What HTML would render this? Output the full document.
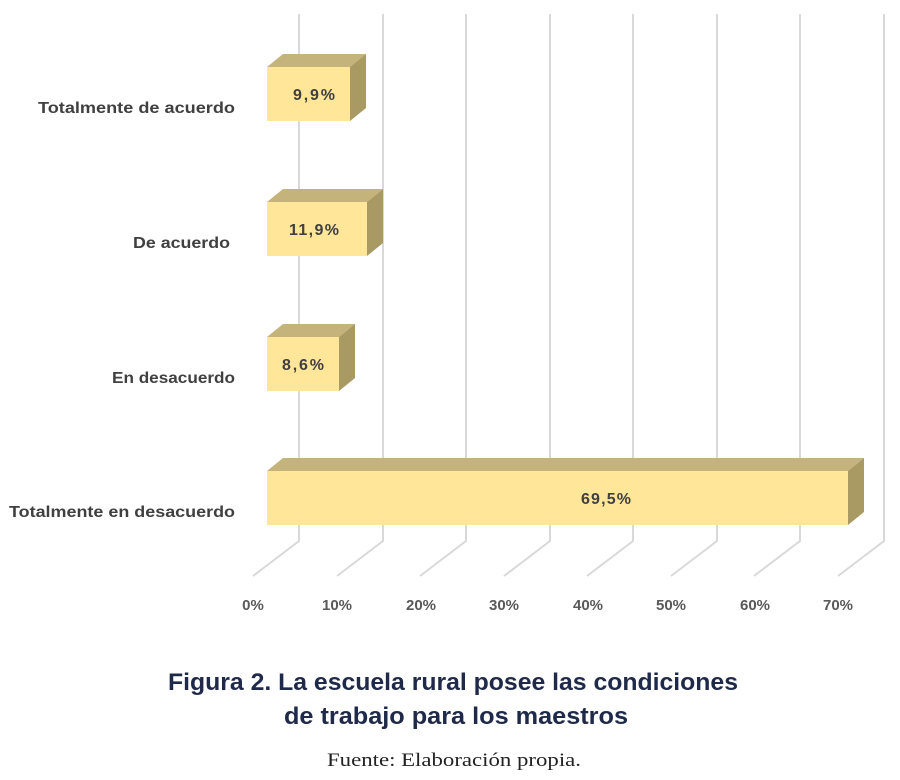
<!DOCTYPE html>
<html><head><meta charset="utf-8"><style>
body{margin:0;background:#fff;width:900px;height:780px;overflow:hidden}
svg{display:block}
</style></head><body>
<svg width="900" height="780" xmlns="http://www.w3.org/2000/svg">
<g stroke="#d9d9d9" stroke-width="2" fill="none">
<polyline points="299,14 299,541 253,576"/>
<polyline points="383,14 383,541 337,576"/>
<polyline points="466,14 466,541 420,576"/>
<polyline points="550,14 550,541 504,576"/>
<polyline points="633,14 633,541 587,576"/>
<polyline points="717,14 717,541 671,576"/>
<polyline points="800,14 800,541 754,576"/>
<polyline points="884,14 884,541 838,576"/>
</g>
<g>
<polygon points="267,67 283,54 366,54 350,67" fill="#c4b37a"/>
<polygon points="350,67 366,54 366,108 350,121" fill="#a89a62"/>
<rect x="267" y="67" width="83" height="54" fill="#ffe699"/>
<polygon points="267,202 283,189 383,189 367,202" fill="#c4b37a"/>
<polygon points="367,202 383,189 383,243 367,256" fill="#a89a62"/>
<rect x="267" y="202" width="100" height="54" fill="#ffe699"/>
<polygon points="267,337 283,324 355,324 339,337" fill="#c4b37a"/>
<polygon points="339,337 355,324 355,378 339,391" fill="#a89a62"/>
<rect x="267" y="337" width="72" height="54" fill="#ffe699"/>
<polygon points="267,471 283,458 864,458 848,471" fill="#c4b37a"/>
<polygon points="848,471 864,458 864,512 848,525" fill="#a89a62"/>
<rect x="267" y="471" width="581" height="54" fill="#ffe699"/>
</g>
<g font-family="Liberation Sans, sans-serif" font-weight="bold" font-size="16" fill="#404040" lengthAdjust="spacingAndGlyphs">
<text x="293" y="100" textLength="42">9,9%</text>
<text x="289" y="235" textLength="50">11,9%</text>
<text x="282" y="370" textLength="42">8,6%</text>
<text x="581" y="504" textLength="50">69,5%</text>
</g>
<g font-family="Liberation Sans, sans-serif" font-weight="bold" font-size="16" fill="#404040">
<text x="38" y="113" textLength="197" lengthAdjust="spacingAndGlyphs">Totalmente de acuerdo</text>
<text x="133" y="248" textLength="97" lengthAdjust="spacingAndGlyphs">De acuerdo</text>
<text x="112" y="383" textLength="123" lengthAdjust="spacingAndGlyphs">En desacuerdo</text>
<text x="9" y="517" textLength="226" lengthAdjust="spacingAndGlyphs">Totalmente en desacuerdo</text>
</g>
<g font-family="Liberation Sans, sans-serif" font-weight="bold" font-size="15" fill="#595959" text-anchor="middle">
<text x="253" y="610">0%</text>
<text x="337" y="610">10%</text>
<text x="421" y="610">20%</text>
<text x="504" y="610">30%</text>
<text x="588" y="610">40%</text>
<text x="671" y="610">50%</text>
<text x="755" y="610">60%</text>
<text x="838" y="610">70%</text>
</g>
<g font-family="Liberation Sans, sans-serif" font-weight="bold" font-size="24" fill="#1f2a4a">
<text x="168" y="690" textLength="570" lengthAdjust="spacingAndGlyphs">Figura 2. La escuela rural posee las condiciones</text>
<text x="284" y="724" textLength="344" lengthAdjust="spacingAndGlyphs">de trabajo para los maestros</text>
</g>
<text x="327" y="766" font-family="Liberation Serif, serif" font-size="19" fill="#222" textLength="254" lengthAdjust="spacingAndGlyphs">Fuente: Elaboración propia.</text>
</svg>
</body></html>
